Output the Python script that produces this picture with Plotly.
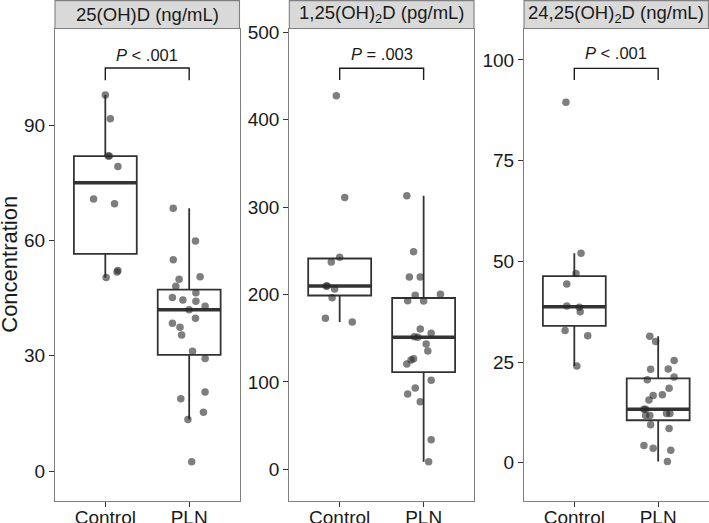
import numpy as np
import plotly.graph_objects as go

# ---------------- data ----------------
groups = ["Control", "PLN"]
panel_titles = ["25(OH)D (ng/mL)", "1,25(OH)<sub>2</sub>D (pg/mL)", "24,25(OH)<sub>2</sub>D (ng/mL)"]
p_labels = ["<i>P</i> < .001", "<i>P</i> = .003", "<i>P</i> < .001"]

ohd_control = [97.9, 91.7, 82.0, 82.0, 79.3, 70.8, 69.6, 52.2, 51.8, 50.4]
ohd_control_jitter = [0.0, 0.06, 0.035, 0.047, 0.15, -0.14, 0.11, 0.15, 0.14, 0.01]
ohd_pln = [68.4, 59.9, 55.0, 49.9, 50.6, 48.1, 46.4, 45.2, 44.5, 44.2, 42.9, 42.0,
           39.8, 38.5, 37.4, 35.4, 31.2, 29.3, 20.6, 18.8, 15.3, 13.4, 2.4]
ohd_pln_jitter = [-0.19, 0.075, -0.19, -0.12, 0.13, -0.16, 0.08, -0.2, -0.075, 0.08, 0.19, 0.0,
                  0.075, -0.2, -0.11, -0.09, 0.04, 0.19, 0.19, -0.10, 0.17, -0.015, 0.03]

d125_control = [427.5, 310.8, 242.5, 237.2, 209.7, 209.7, 206.3, 196.3, 172.8, 168.5]
d125_control_jitter = [-0.04, 0.06, 0.0, -0.1, -0.16, -0.15, -0.06, -0.09, -0.17, 0.15]
d125_pln = [313.0, 249.0, 220.0, 220.0, 192.9, 199.0, 192.6, 200.2, 160.5, 155.6, 151.7, 151.0,
            143.4, 135.4, 126.5, 125.1, 120.5, 101.8, 93.0, 86.2, 77.3, 33.9, 8.7]
d125_pln_jitter = [-0.2, -0.12, -0.17, -0.04, -0.19, -0.10, 0.0, 0.2, -0.04, 0.09, -0.11, -0.07,
                   0.03, 0.05, -0.12, -0.15, -0.2, 0.09, -0.1, -0.19, -0.04, 0.09, 0.06]

d2425_control = [89.5, 52.0, 47.0, 44.4, 38.9, 38.6, 37.5, 32.8, 31.5, 24.0]
d2425_control_jitter = [-0.1, 0.08, 0.02, -0.09, -0.09, 0.06, 0.07, -0.11, 0.16, 0.03]
d2425_pln = [31.4, 30.1, 25.4, 23.2, 23.3, 21.3, 20.6, 18.5, 16.7, 16.9, 15.6, 13.3,
             13.3, 11.7, 11.7, 12.2, 12.2, 9.4, 8.5, 4.3, 3.6, 3.1, 0.3]
d2425_pln_jitter = [-0.1, -0.03, 0.19, -0.09, 0.12, 0.19, -0.13, 0.13, -0.06, 0.05, -0.11, -0.17,
                    -0.15, -0.15, -0.1, 0.1, 0.14, -0.09, 0.13, -0.17, -0.06, 0.15, 0.11]

y_ticks = [[0, 30, 60, 90], [0, 100, 200, 300, 400, 500], [0, 25, 50, 75, 100]]
y_ranges = [[-7.8, 115.2], [-36.3, 504.3], [-9.5, 107.8]]
bracket_y = [104.9, 458.8, 97.9]
bracket_drop = [3.2, 13.4, 2.9]
label_y = [108.4, 475.5, 101.6]

panels = [
    [(ohd_control, ohd_control_jitter), (ohd_pln, ohd_pln_jitter)],
    [(d125_control, d125_control_jitter), (d125_pln, d125_pln_jitter)],
    [(d2425_control, d2425_control_jitter), (d2425_pln, d2425_pln_jitter)],
]

# ---------------- layout geometry ----------------
W, H = 709, 523
x_px = [(55, 239.5), (289.3, 474), (524, 708.5)]
top_px, bot_px = 28.5, 501
ydom = [1 - bot_px / H, 1 - top_px / H]

FONT = "Liberation Sans, Arial, sans-serif"
DARK = "#333333"
BORDER = "#7f7f7f"
BOX_W = 0.75

fig = go.Figure()
shapes = []
annotations = []

for i, panel in enumerate(panels):
    xa = "x" if i == 0 else f"x{i+1}"
    ya = "y" if i == 0 else f"y{i+1}"
    for g, (vals, jit) in enumerate(panel):
        pos = g + 1
        arr = np.array(vals)
        q1, med, q3 = np.percentile(arr, [25, 50, 75])
        iqr = q3 - q1
        lo = arr[arr >= q1 - 1.5 * iqr].min()
        hi = arr[arr <= q3 + 1.5 * iqr].max()
        fig.add_trace(go.Box(
            x=[pos], q1=[q1], median=[med], q3=[q3], lowerfence=[lo], upperfence=[hi],
            width=BOX_W, whiskerwidth=0, boxpoints=False,
            fillcolor="white", line=dict(color=DARK, width=1.8),
            xaxis=xa, yaxis=ya, showlegend=False, hoverinfo="skip"))
        fig.add_trace(go.Scatter(
            x=[pos - BOX_W / 2, pos + BOX_W / 2], y=[med, med], mode="lines",
            line=dict(color=DARK, width=3.5), xaxis=xa, yaxis=ya,
            showlegend=False, hoverinfo="skip"))
        fig.add_trace(go.Scatter(
            x=[pos + j for j in jit], y=vals, mode="markers",
            marker=dict(size=7.5, color="rgba(40,40,40,0.6)", line=dict(width=0)),
            xaxis=xa, yaxis=ya, showlegend=False, hoverinfo="skip"))
    # significance bracket
    by = bracket_y[i]
    fig.add_trace(go.Scatter(
        x=[1, 1, 2, 2], y=[by - bracket_drop[i], by, by, by - bracket_drop[i]],
        mode="lines", line=dict(color="#1a1a1a", width=1.4),
        xaxis=xa, yaxis=ya, showlegend=False, hoverinfo="skip"))
    annotations.append(dict(
        x=1.5, y=label_y[i], xref=xa, yref=ya, text=p_labels[i], showarrow=False,
        font=dict(family=FONT, size=16.5, color="#1a1a1a"), xanchor="center", yanchor="middle"))

    d0, d1 = x_px[i][0] / W, x_px[i][1] / W
    axis_common = dict(showline=True, mirror=True, linecolor=BORDER, linewidth=1.1,
                       showgrid=False, zeroline=False, ticks="outside", ticklen=5,
                       tickcolor=DARK, tickwidth=1.1, automargin=False,
                       tickfont=dict(family=FONT, size=19, color="#1a1a1a"))
    fig.layout[f"xaxis{'' if i == 0 else i+1}"] = dict(
        domain=[d0, d1], anchor=ya, range=[0.4, 2.6], ticklabelstandoff=-6,
        tickvals=[1, 2], ticktext=groups, **axis_common)
    fig.layout[f"yaxis{'' if i == 0 else i+1}"] = dict(
        domain=ydom, anchor=xa, range=y_ranges[i], tickvals=y_ticks[i], **axis_common)

    # strip
    shapes.append(dict(type="rect", xref="paper", yref="paper",
                       x0=d0, x1=d1, y0=1 - top_px / H, y1=1 - 0.6 / H,
                       fillcolor="#d9d9d9", line=dict(color=BORDER, width=1.1), layer="above"))
    annotations.append(dict(
        x=(d0 + d1) / 2, y=1 - 14.5 / H, xref="paper", yref="paper", text=panel_titles[i],
        showarrow=False, font=dict(family=FONT, size=18.5, color="#1a1a1a"),
        xanchor="center", yanchor="middle"))

annotations.append(dict(
    x=10 / W, y=(ydom[0] + ydom[1]) / 2, xref="paper", yref="paper", text="Concentration",
    textangle=-90, showarrow=False, font=dict(family=FONT, size=22, color="#1a1a1a"),
    xanchor="center", yanchor="middle"))

fig.update_layout(
    width=W, height=H, margin=dict(l=0, r=0, t=0, b=0),
    paper_bgcolor="white", plot_bgcolor="white",
    shapes=shapes, annotations=annotations, showlegend=False)

fig.write_html("out.html", config={"displayModeBar": False},
               post_script="document.body.style.margin='0px';document.body.style.overflow='hidden';")
